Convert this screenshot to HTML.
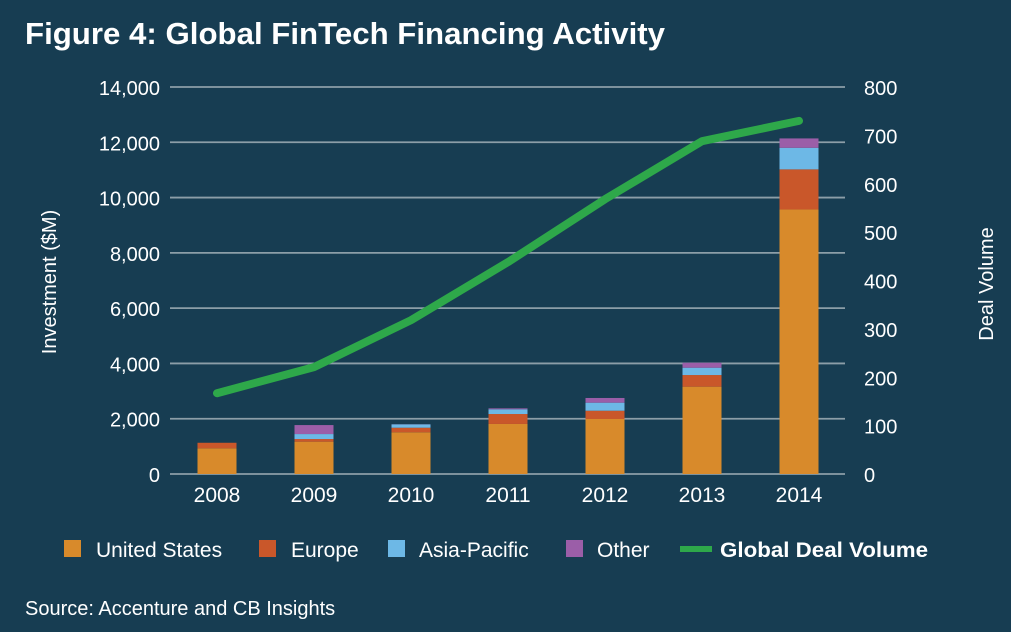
<!DOCTYPE html>
<html><head><meta charset="utf-8"><style>
html,body{margin:0;padding:0;background:#173d52;}
svg{display:block;font-family:"Liberation Sans",sans-serif;}
</style></head><body>
<svg id="chart" width="1011" height="632" viewBox="0 0 1011 632">
<rect width="1011" height="632" fill="#173d52"/>
<text x="25" y="44" font-size="31" font-weight="bold" fill="#fff" textLength="640" lengthAdjust="spacingAndGlyphs">Figure 4: Global FinTech Financing Activity</text>
<g id="grid"></g><g id="bars"></g><g id="line"></g><g id="axes"></g>
<text transform="translate(56,282) rotate(-90)" text-anchor="middle" font-size="20" fill="#fff">Investment ($M)</text>
<text transform="translate(993,284) rotate(-90)" text-anchor="middle" font-size="20" fill="#fff">Deal Volume</text>
<g font-size="21" fill="#fff">
<rect x="64" y="540" width="17" height="17" fill="#d88a2b"/>
<text x="96" y="557">United States</text>
<rect x="259" y="540" width="17" height="17" fill="#c9572a"/>
<text x="291" y="557">Europe</text>
<rect x="388" y="540" width="17" height="17" fill="#6db8e6"/>
<text x="419" y="557">Asia-Pacific</text>
<rect x="566" y="540" width="17" height="17" fill="#9b5ea8"/>
<text x="597" y="557">Other</text>
<line x1="680" y1="549" x2="712" y2="549" stroke="#2ea84a" stroke-width="6"/>
<text x="720" y="557" font-weight="bold" textLength="208" lengthAdjust="spacingAndGlyphs">Global Deal Volume</text>
</g>
<text x="25" y="615" font-size="20" fill="#fff">Source: Accenture and CB Insights</text>
</svg>
<script>
const years=["2008","2009","2010","2011","2012","2013","2014"];
const us=[930,1170,1510,1810,1990,3160,9570];
const europe=[200,95,165,360,300,420,1450];
const asiaPacific=[0,180,120,170,290,265,780];
const other=[0,325,5,35,170,180,340];
const dealVolume=[167,221,318,438,568,688,730];
const leftTicks=[0,2000,4000,6000,8000,10000,12000,14000];
const rightTicks=[0,100,200,300,400,500,600,700,800];
const NS="http://www.w3.org/2000/svg";
const y0=474,y1=87,xL=170,xR=845;
const yL=v=>y0-(v/14000)*(y0-y1);
const yR=v=>y0-(v/800)*(y0-y1);
const xC=i=>217+i*97;
const bw=39;
function mk(tag,attrs,parent){const e=document.createElementNS(NS,tag);for(const k in attrs)e.setAttribute(k,attrs[k]);document.getElementById(parent).appendChild(e);return e;}
leftTicks.forEach(t=>{
 const l=mk("line",{x1:xL,x2:xR,y1:yL(t),y2:yL(t),stroke:"#8c9ea8","stroke-width":1.8},"grid");
 
 
 const tx=mk("text",{x:160,y:yL(t)+8,"text-anchor":"end","font-size":20,fill:"#fff"},"axes");
 tx.textContent=t.toLocaleString("en-US");
 
 
});
rightTicks.forEach(t=>{
 const tx=mk("text",{x:864,y:yR(t)+8,"font-size":20,fill:"#fff"},"axes");
 tx.textContent=t;
 
 
});
const series=[[us,"#d88a2b","bar-us"],[europe,"#c9572a","bar-europe"],[asiaPacific,"#6db8e6","bar-apac"],[other,"#9b5ea8","bar-other"]];
years.forEach((yr,i)=>{
 let base=0;
 series.forEach(([arr,col,name])=>{
  const v=arr[i];
  if(v>0){
   const r=mk("rect",{x:xC(i)-bw/2,y:yL(base+v),width:bw,height:yL(base)-yL(base+v),fill:col},"bars");
   
   
  }
  base+=v;
 });
 const tx=mk("text",{x:xC(i),y:502,"text-anchor":"middle","font-size":21,fill:"#fff"},"axes");
 tx.textContent=yr;
 
 
});
const pts=dealVolume.map((v,i)=>xC(i)+","+yR(v)).join(" ");
const pl=mk("polyline",{points:pts,fill:"none",stroke:"#2ea84a","stroke-width":8,"stroke-linecap":"round","stroke-linejoin":"round"},"line");


</script>
</body></html>
